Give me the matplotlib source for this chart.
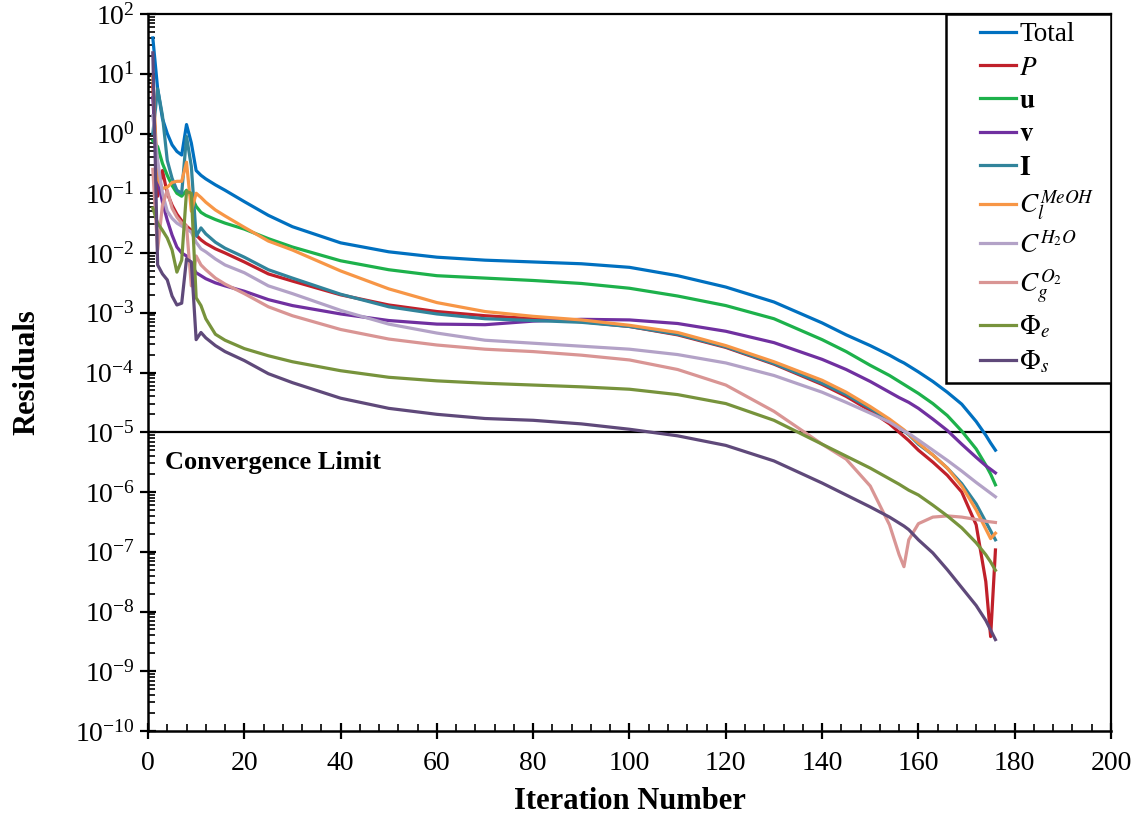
import numpy as np
import matplotlib
matplotlib.use("Agg")
import matplotlib.pyplot as plt
from matplotlib.patches import Rectangle
from matplotlib.ticker import LogLocator, MultipleLocator, NullFormatter

plt.rcParams['font.family'] = ['Liberation Serif', 'DejaVu Serif']
plt.rcParams['mathtext.fontset'] = 'stix'

# iteration numbers at which values were read
iters = [1, 2, 3, 4, 5, 6, 7, 8, 9, 10, 11, 12, 14, 16, 20, 25, 30, 40, 50, 60, 70, 80,
         90, 100, 110, 120, 130, 140, 145, 150, 154, 156, 157, 158, 160, 163, 166, 169,
         172, 174, 175, 176]

# residuals as log10 values
total_log = [1.6, 0.75, 0.25, 0.0, -0.19, -0.30, -0.36, 0.15, -0.16, -0.62, -0.70, -0.76,
             -0.86, -0.95, -1.14, -1.37, -1.56, -1.83, -1.98, -2.07, -2.12, -2.15, -2.18,
             -2.24, -2.38, -2.57, -2.82, -3.17, -3.37, -3.55, -3.71, -3.80, -3.84, -3.89,
             -3.99, -4.15, -4.33, -4.53, -4.82, -5.05, -5.18, -5.30]
p_log = [0.8, -1.05, -0.62, -1.0, -1.2, -1.35, -1.46, -1.55, -1.62, -1.70, -1.78, -1.84,
         -1.93, -2.0, -2.15, -2.35, -2.47, -2.70, -2.87, -2.98, -3.05, -3.10, -3.15, -3.23,
         -3.37, -3.58, -3.86, -4.20, -4.40, -4.64, -4.86, -5.0, -5.07, -5.14, -5.30, -5.50,
         -5.72, -6.0, -6.55, -7.5, -8.42, -6.97]
u_log = [-0.12, -0.22, -0.5, -0.7, -0.87, -1.0, -1.05, -0.95, -1.05, -1.22, -1.32, -1.37,
         -1.44, -1.5, -1.6, -1.76, -1.9, -2.13, -2.28, -2.38, -2.42, -2.46, -2.51, -2.59,
         -2.72, -2.88, -3.1, -3.45, -3.65, -3.88, -4.05, -4.15, -4.2, -4.25, -4.35, -4.52,
         -4.72, -4.98, -5.28, -5.55, -5.7, -5.88]
v_log = [0.6, -0.75, -1.15, -1.45, -1.7, -1.9, -2.0, -2.05, -2.2, -2.33, -2.38, -2.43,
         -2.5, -2.55, -2.64, -2.78, -2.88, -3.02, -3.13, -3.19, -3.2, -3.14, -3.11, -3.12,
         -3.18, -3.31, -3.5, -3.78, -3.95, -4.15, -4.33, -4.42, -4.46, -4.5, -4.6, -4.78,
         -4.97, -5.2, -5.42, -5.56, -5.62, -5.68]
i_log = [0.0, 0.75, 0.3, -0.45, -0.75, -0.95, -1.0, -0.05, -0.55, -1.72, -1.58, -1.68,
         -1.82, -1.92, -2.07, -2.28, -2.42, -2.69, -2.9, -3.02, -3.1, -3.13, -3.16, -3.23,
         -3.36, -3.57, -3.85, -4.18, -4.37, -4.6, -4.8, -4.92, -4.98, -5.04, -5.2, -5.38,
         -5.6, -5.86, -6.2, -6.5, -6.65, -6.8]
meoh_log = [0.95, -0.75, -0.92, -0.9, -0.82, -0.8, -0.8, -0.48, -1.3, -1.0, -1.07, -1.15,
            -1.28, -1.38, -1.57, -1.8, -1.95, -2.3, -2.6, -2.83, -2.98, -3.06, -3.12, -3.21,
            -3.33, -3.55, -3.82, -4.13, -4.33, -4.57, -4.78, -4.9, -4.96, -5.03, -5.18,
            -5.38, -5.6, -5.9, -6.3, -6.62, -6.78, -6.69]
h2o_log = [0.3, -0.45, -1.0, -1.3, -1.42, -1.5, -1.55, -1.6, -1.65, -1.82, -1.93, -1.98,
           -2.1, -2.2, -2.33, -2.55, -2.68, -2.96, -3.19, -3.34, -3.46, -3.51, -3.56, -3.61,
           -3.7, -3.84, -4.05, -4.33, -4.5, -4.68, -4.83, -4.93, -4.98, -5.02, -5.13, -5.3,
           -5.47, -5.65, -5.84, -5.96, -6.02, -6.08]
o2_log = [-0.6, -1.95, -1.2, -0.95, -1.25, -1.4, -1.5, -1.55, -2.55, -2.05, -2.2, -2.28,
          -2.42, -2.52, -2.68, -2.9, -3.05, -3.28, -3.44, -3.54, -3.61, -3.65, -3.71, -3.79,
          -3.95, -4.21, -4.65, -5.2, -5.45, -5.9, -6.55, -7.05, -7.25, -6.8, -6.53, -6.42,
          -6.4, -6.42, -6.46, -6.49, -6.5, -6.51]
phie_log = [-1.25, -1.5, -1.62, -1.75, -1.95, -2.32, -2.12, -0.97, -1.0, -2.75, -2.88, -3.1,
            -3.36, -3.46, -3.6, -3.72, -3.82, -3.97, -4.08, -4.14, -4.18, -4.21, -4.24,
            -4.28, -4.37, -4.52, -4.8, -5.2, -5.4, -5.6, -5.78, -5.87, -5.92, -5.97, -6.05,
            -6.22, -6.4, -6.6, -6.85, -7.05, -7.17, -7.31]
phis_log = [1.35, -2.2, -2.35, -2.45, -2.72, -2.87, -2.84, -2.1, -2.15, -3.45, -3.33, -3.42,
            -3.55, -3.65, -3.8, -4.02, -4.17, -4.43, -4.6, -4.7, -4.77, -4.8, -4.86, -4.95,
            -5.06, -5.22, -5.48, -5.85, -6.05, -6.25, -6.42, -6.52, -6.57, -6.63, -6.8,
            -7.02, -7.3, -7.6, -7.9, -8.15, -8.31, -8.47]

labels = ['Total', r'$P$', r'$\mathbf{u}$', r'$\mathbf{v}$', r'$\mathbf{I}$',
          r'$C_l^{MeOH}$', r'$C^{H_2O}$', r'$C_g^{O_2}$', r'$\Phi_e$', r'$\Phi_s$']
series = [total_log, p_log, u_log, v_log, i_log, meoh_log, h2o_log, o2_log, phie_log, phis_log]
colors = ['#0070C0', '#C0202A', '#1DB14B', '#7030A0', '#31849B', '#F79646', '#B3A2C7',
          '#D99594', '#77933C', '#5F497A']

convergence_limit = 1e-5

W, H = 1136, 817
L, R, T, B = 148, 1111, 14, 731
fig = plt.figure(figsize=(W / 100, H / 100), dpi=100)
ax = fig.add_axes([L / W, 1 - B / H, (R - L) / W, (B - T) / H])

for lab, s, c in zip(labels, series, colors):
    ax.plot(iters, 10.0 ** np.array(s), color=c, lw=2.3, label=lab, solid_joinstyle='round')

ax.axhline(convergence_limit, color='black', lw=1.6, zorder=1)
ax.text(3.5, 10 ** -5.5, 'Convergence Limit', fontsize=19, fontweight='bold',
        va='center', ha='left')

ax.set_yscale('log')
ax.set_xlim(0, 200)
ax.set_ylim(1e-10, 1e2)
ax.xaxis.set_major_locator(MultipleLocator(20))
ax.xaxis.set_minor_locator(MultipleLocator(4))
ax.yaxis.set_minor_locator(LogLocator(base=10, subs=np.arange(2, 10), numticks=20))
ax.yaxis.set_minor_formatter(NullFormatter())
yt = [10.0 ** k for k in range(-10, 3)]
ax.set_yticks(yt)
ax.set_yticklabels([r'$\mathregular{10^{%d}}$' % k for k in range(-10, 3)])

ax.tick_params(axis='both', which='major', direction='inout', length=11, width=1.6,
               labelsize=20, colors='black', pad=4)
ax.tick_params(axis='both', which='minor', direction='in', length=5, width=1.2)
ax.tick_params(axis='x', which='major', pad=9)
for side in ['top', 'right']:
    ax.spines[side].set_linewidth(1.6)
for side in ['left', 'bottom']:
    ax.spines[side].set_linewidth(1.8)

ax.set_xlabel('Iteration Number', fontsize=22, fontweight='bold', labelpad=8)
ax.set_ylabel('Residuals', fontsize=22, fontweight='bold', labelpad=24)

# legend frame drawn as a box in the upper right corner
fx0 = (946 - L) / (R - L)
fy0 = (B - 383) / (B - T)
ax.add_patch(Rectangle((fx0, fy0), 1 - fx0, 1 - fy0, transform=ax.transAxes,
                       facecolor='white', edgecolor='black', lw=1.8, zorder=5))
leg = ax.legend(loc='upper left', bbox_to_anchor=((972 - L) / (R - L), 1.0),
                borderaxespad=0, fontsize=19.5, handlelength=1.33,
                handletextpad=0.12, labelspacing=0.31, frameon=False, borderpad=0.3)
leg.set_zorder(6)

fig.savefig('out.png', dpi=100)
